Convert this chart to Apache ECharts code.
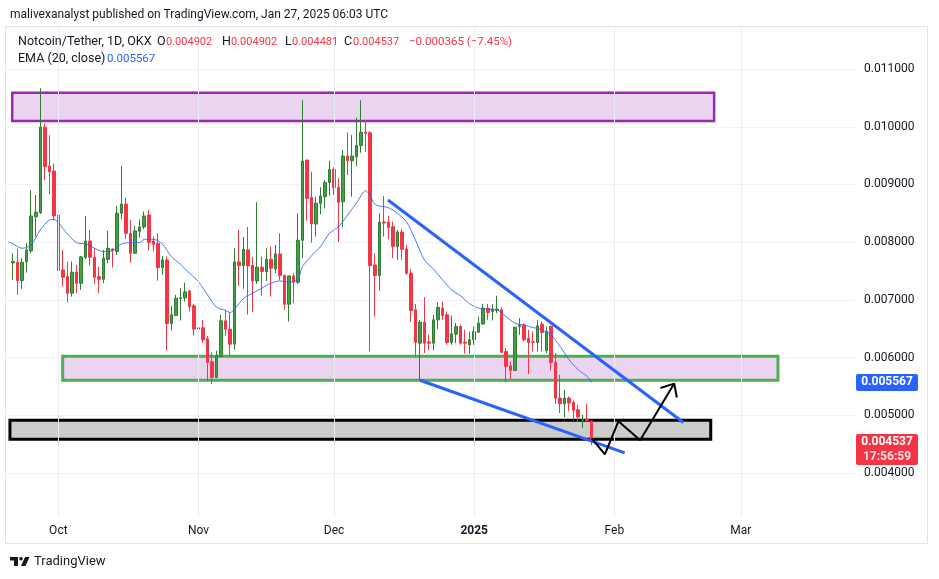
<!DOCTYPE html>
<html>
<head>
<meta charset="utf-8">
<title>Notcoin/Tether 1D</title>
<script src="https://cdn.jsdelivr.net/npm/echarts@6/dist/echarts.min.js"></script>
<style>
  html, body { margin: 0; padding: 0; background: #fff; }
  #chart { width: 939px; height: 579px; }
</style>
</head>
<body>
<div id="chart"></div>
<script>
// daily candles, first one is 2024-09-21, last one 2025-01-27
var firstDay = Date.UTC(2024, 8, 21);
var DAY = 86400000;

var opens = [
  0.007640, 0.007651, 0.007334, 0.007663, 0.007848, 0.008442, 0.008511, 0.009994, 0.009319, 0.009233,
  0.008471, 0.007519, 0.007403, 0.007115, 0.007478, 0.007288, 0.007738, 0.008021, 0.007738, 0.007403,
  0.007357, 0.007703, 0.007882, 0.007836, 0.008500, 0.008661, 0.008154, 0.007807, 0.008188, 0.008263,
  0.008471, 0.008021, 0.007980, 0.007559, 0.007692, 0.006590, 0.006728, 0.007023, 0.007034, 0.007155,
  0.006896, 0.006492, 0.006515, 0.006324, 0.005926, 0.005655, 0.006019, 0.006636, 0.006492, 0.006232,
  0.007657, 0.007594, 0.007865, 0.007600, 0.007328, 0.007565, 0.007490, 0.007703, 0.007536, 0.007796,
  0.007426, 0.006924, 0.007415, 0.007305, 0.008032, 0.009423, 0.008777, 0.008315, 0.008673, 0.008788,
  0.009036, 0.009261, 0.008950, 0.008702, 0.009492, 0.009411, 0.009481, 0.009677, 0.009908, 0.009896,
  0.007605, 0.007421, 0.008350, 0.008350, 0.008269, 0.007923, 0.008177, 0.007882, 0.007461, 0.006826,
  0.006249, 0.006613, 0.006272, 0.006249, 0.006653, 0.006855, 0.006740, 0.006261, 0.006405, 0.006538,
  0.006267, 0.006220, 0.006307, 0.006440, 0.006584, 0.006855, 0.006797, 0.006815, 0.006826, 0.006105,
  0.005857, 0.005776, 0.006532, 0.006567, 0.006336, 0.006272, 0.006261, 0.006578, 0.006117, 0.006538,
  0.005915, 0.005297, 0.005199, 0.005297, 0.005222, 0.005095, 0.004911, 0.004934, 0.004902
];
var closes = [
  0.007663, 0.007334, 0.007651, 0.007865, 0.008454, 0.008517, 0.009994, 0.009308, 0.009221, 0.008454,
  0.007507, 0.007392, 0.007115, 0.007478, 0.007288, 0.007744, 0.008021, 0.007738, 0.007392, 0.007357,
  0.007721, 0.007894, 0.007853, 0.008500, 0.008661, 0.008154, 0.007807, 0.008194, 0.008263, 0.008454,
  0.007992, 0.007963, 0.007559, 0.007692, 0.006590, 0.006740, 0.007028, 0.007034, 0.007138, 0.006884,
  0.006492, 0.006515, 0.006307, 0.005915, 0.005655, 0.006030, 0.006636, 0.006492, 0.006232, 0.007657,
  0.007594, 0.007877, 0.007588, 0.007328, 0.007565, 0.007490, 0.007703, 0.007548, 0.007796, 0.007421,
  0.006924, 0.007415, 0.007305, 0.008032, 0.009406, 0.008759, 0.008315, 0.008673, 0.008800, 0.009036,
  0.009261, 0.008944, 0.008690, 0.009492, 0.009411, 0.009492, 0.009677, 0.009908, 0.009885, 0.007594,
  0.007421, 0.008344, 0.008332, 0.008257, 0.007923, 0.008177, 0.007877, 0.007461, 0.006815, 0.006261,
  0.006613, 0.006249, 0.006249, 0.006653, 0.006867, 0.006728, 0.006261, 0.006411, 0.006538, 0.006249,
  0.006249, 0.006307, 0.006451, 0.006596, 0.006855, 0.006780, 0.006838, 0.006838, 0.006088, 0.005845,
  0.005776, 0.006526, 0.006555, 0.006307, 0.006261, 0.006261, 0.006549, 0.006434, 0.006451, 0.005915,
  0.005297, 0.005199, 0.005297, 0.005211, 0.005084, 0.004968, 0.004934, 0.004902, 0.004537
];
var lows = [
  0.007346, 0.007086, 0.007190, 0.007473, 0.007807, 0.008096, 0.008488, 0.009077, 0.008829, 0.008384,
  0.007161, 0.007230, 0.006959, 0.007057, 0.007115, 0.007173, 0.007709, 0.007594, 0.007276, 0.007115,
  0.007288, 0.007634, 0.007559, 0.007778, 0.008396, 0.008055, 0.007646, 0.007796, 0.008084, 0.008228,
  0.007853, 0.007836, 0.007334, 0.007432, 0.006122, 0.006469, 0.006723, 0.006642, 0.006971, 0.006797,
  0.006382, 0.006336, 0.006249, 0.005586, 0.005540, 0.005655, 0.006019, 0.006376, 0.006019, 0.006134,
  0.007242, 0.007190, 0.006745, 0.006786, 0.007276, 0.007074, 0.007328, 0.007057, 0.007461, 0.007346,
  0.006826, 0.006624, 0.006942, 0.007276, 0.007721, 0.008373, 0.007992, 0.008096, 0.008482, 0.008586,
  0.008806, 0.008817, 0.008003, 0.008252, 0.009163, 0.008788, 0.009319, 0.009550, 0.009567, 0.006105,
  0.006711, 0.007161, 0.008096, 0.008050, 0.007721, 0.007692, 0.007692, 0.007432, 0.006624, 0.006007,
  0.005615, 0.006076, 0.006122, 0.006122, 0.006492, 0.006653, 0.006220, 0.006220, 0.006249, 0.006220,
  0.006065, 0.006065, 0.006220, 0.006422, 0.006567, 0.006653, 0.006642, 0.006769, 0.006076, 0.005568,
  0.005626, 0.005776, 0.006394, 0.006278, 0.005713, 0.006105, 0.006105, 0.006105, 0.006076, 0.005776,
  0.005199, 0.005038, 0.004968, 0.005066, 0.004911, 0.004894, 0.004778, 0.004894, 0.004481
];
var highs = [
  0.007807, 0.007882, 0.007721, 0.007980, 0.008904, 0.008817, 0.010669, 0.010058, 0.009856, 0.009365,
  0.008961, 0.007865, 0.007663, 0.007663, 0.007605, 0.007761, 0.008454, 0.008211, 0.007894, 0.007576,
  0.007865, 0.008194, 0.007894, 0.008627, 0.009319, 0.008771, 0.008384, 0.008286, 0.008396, 0.008529,
  0.008557, 0.008096, 0.008154, 0.007761, 0.007750, 0.006896, 0.007086, 0.007201, 0.007300, 0.007173,
  0.006930, 0.006723, 0.006653, 0.006376, 0.006088, 0.006117, 0.006740, 0.006826, 0.006769, 0.007894,
  0.008211, 0.008090, 0.008263, 0.007744, 0.008696, 0.007744, 0.007894, 0.007923, 0.007952, 0.008154,
  0.007432, 0.007415, 0.007461, 0.008500, 0.010462, 0.009423, 0.009221, 0.008788, 0.008950, 0.009077,
  0.009411, 0.009296, 0.009106, 0.009596, 0.009902, 0.009856, 0.010156, 0.010462, 0.010115, 0.009925,
  0.007807, 0.008500, 0.008800, 0.008454, 0.008355, 0.008211, 0.008228, 0.007952, 0.007536, 0.006930,
  0.006653, 0.007046, 0.006394, 0.006740, 0.006953, 0.006971, 0.006797, 0.006723, 0.006596, 0.006567,
  0.006480, 0.006451, 0.006538, 0.006711, 0.006930, 0.006930, 0.006924, 0.007069, 0.006873, 0.006163,
  0.005932, 0.006526, 0.006682, 0.006596, 0.006480, 0.006451, 0.006653, 0.006624, 0.006538, 0.006555,
  0.006076, 0.005701, 0.005441, 0.005326, 0.005257, 0.005182, 0.005009, 0.005199, 0.004902
];

// EMA(20, close): day offset from firstDay, value
var emaDay = [-1, 0, 2, 4, 6, 8, 9, 10, 12, 14, 16, 18, 20, 22, 24, 26, 28, 29, 31, 33, 35, 37, 39, 41,
  43, 45, 47, 48, 49, 51, 53, 55, 57, 59, 61, 63, 64, 66, 68, 70, 72, 74, 76, 78, 79, 80, 81, 83, 85,
  87, 89, 91, 93, 95, 97, 99, 101, 103, 105, 107, 109, 111, 113, 115, 117, 119, 121, 123, 125, 127, 128];
var emaValue = [0.008000, 0.007969, 0.007894, 0.007952, 0.008211, 0.008384, 0.008396, 0.008338, 0.008142,
  0.007992, 0.007969, 0.007894, 0.007836, 0.007853, 0.007969, 0.007992, 0.007992, 0.008050, 0.008050,
  0.007969, 0.007750, 0.007617, 0.007461, 0.007317, 0.007086, 0.006873, 0.006815, 0.006780, 0.006838,
  0.007028, 0.007115, 0.007201, 0.007288, 0.007328, 0.007305, 0.007357, 0.007577, 0.007761, 0.007923,
  0.008154, 0.008269, 0.008471, 0.008684, 0.008892, 0.008800, 0.008661, 0.008627, 0.008598, 0.008500,
  0.008355, 0.008038, 0.007692, 0.007530, 0.007346, 0.007173, 0.007069, 0.006930, 0.006855, 0.006838,
  0.006826, 0.006711, 0.006596, 0.006561, 0.006521, 0.006480, 0.006394, 0.006192, 0.005961, 0.005788,
  0.005673, 0.005567];

var monthTicks = ['2024-10-01', '2024-11-01', '2024-12-01', '2025-01-01', '2025-02-01', '2025-03-01'];
var monthLabels = ['Oct', 'Nov', 'Dec', '2025', 'Feb', 'Mar'];

// drawn zones: [left date, right date, top price, bottom price]
var purpleZone = ['2024-09-20T19:00Z', '2025-02-23T02:00Z', 0.010590, 0.010100];
var greenZone = ['2024-10-01T23:00Z', '2025-03-09T05:00Z', 0.006021, 0.005606];
var greyZone = ['2024-09-20T07:00Z', '2025-02-22T08:00Z', 0.004913, 0.004585];

// drawn trend lines and projected path
var upperLine = [['2024-12-12T22:00Z', 0.008732], ['2025-02-16T07:00Z', 0.004874]];
var lowerLine = [['2024-12-20T00:00Z', 0.005606], ['2025-02-03T07:00Z', 0.004348]];
var zigzag = [['2025-01-27T00:00Z', 0.004597], ['2025-01-29T22:00Z', 0.004320], ['2025-02-01T22:00Z', 0.004896],
  ['2025-02-06T17:00Z', 0.004567], ['2025-02-14T06:00Z', 0.005548]];
var arrowHead = [['2025-02-11T05:00Z', 0.005472], ['2025-02-14T06:00Z', 0.005548], ['2025-02-14T20:00Z', 0.005306]];

var lastPrice = 0.004537;
var emaLast = 0.005567;

function t(s) { return Date.parse(s.length == 10 ? s + 'T00:00:00Z' : s); }
function pts(arr) { return arr.map(function (p) { return [t(p[0]), p[1]]; }); }
function zone(z, style) {
  return [{ xAxis: t(z[0]), yAxis: z[2], itemStyle: style }, { xAxis: t(z[1]), yAxis: z[3] }];
}

var candleData = [];
for (var i = 0; i < opens.length; i++) {
  candleData.push([firstDay + i * DAY, opens[i], closes[i], lows[i], highs[i]]);
}
var emaData = emaDay.map(function (d, k) { return [firstDay + d * DAY, emaValue[k]]; });
var tickTimes = monthTicks.map(t);

var FONT = 'Roboto, "Liberation Sans", sans-serif';
var chart = echarts.init(document.getElementById('chart'));

chart.setOption({
  animation: false,
  backgroundColor: '#ffffff',
  textStyle: { fontFamily: FONT },
  grid: { left: 6, right: 84, top: 27, bottom: 62 },
  xAxis: {
    type: 'value',
    min: Date.UTC(2024, 8, 19, 10),
    max: Date.UTC(2025, 2, 26, 6),
    axisLine: { show: false },
    axisTick: { show: false },
    splitLine: { show: false },
    axisLabel: {
      customValues: tickTimes,
      margin: 8,
      color: '#131722',
      fontSize: 12,
      formatter: function (v) {
        var k = tickTimes.indexOf(v);
        var s = k >= 0 ? monthLabels[k] : '';
        return s === '2025' ? '{b|' + s + '}' : s;
      },
      rich: { b: { fontWeight: 'bold', fontSize: 12, color: '#131722' } }
    }
  },
  yAxis: {
    type: 'value',
    position: 'right',
    min: 0.003235,
    max: 0.011730,
    splitNumber: 8,
    axisLine: { show: false },
    axisTick: { show: false },
    splitLine: { showMinLine: false, showMaxLine: false, lineStyle: { color: '#f0f3fa', width: 1 } },
    axisLabel: {
      color: '#131722',
      fontSize: 12,
      margin: 9,
      showMinLabel: false,
      showMaxLabel: false,
      formatter: function (v) { return v.toFixed(6); }
    }
  },
  series: [
    {
      // zones and month grid lines
      type: 'line',
      data: [],
      z: 1,
      silent: true,
      markLine: {
        symbol: 'none',
        silent: true,
        label: { show: false },
        lineStyle: { color: '#eaedf3', width: 1, type: 'solid' },
        data: tickTimes.map(function (v) { return { xAxis: v }; })
      },
      markArea: {
        silent: true,
        data: [
          zone(purpleZone, { color: 'rgba(156,39,176,0.2)', borderColor: '#9c27b0', borderWidth: 2.5 }),
          zone(greenZone, { color: 'rgba(156,39,176,0.2)', borderColor: '#4caf50', borderWidth: 3 }),
          zone(greyZone, { color: 'rgba(0,0,0,0.2)', borderColor: '#000000', borderWidth: 3 })
        ]
      }
    },
    {
      name: 'Notcoin/Tether',
      type: 'candlestick',
      z: 3,
      barWidth: 3,
      encode: { x: 0, y: [1, 2, 3, 4] },
      data: candleData,
      itemStyle: {
        color: '#43a047',
        color0: '#f23645',
        borderColor: '#2e7d32',
        borderColor0: '#f23645',
        borderWidth: 1
      },
      markLine: {
        symbol: 'none',
        silent: true,
        label: { show: false },
        lineStyle: { color: '#f23645', width: 1, type: 'dotted' },
        data: [{ yAxis: lastPrice }]
      }
    },
    {
      name: 'EMA (20, close)',
      type: 'line',
      z: 4,
      data: emaData,
      smooth: 0.3,
      symbol: 'none',
      lineStyle: { color: '#2962ff', width: 1, opacity: 0.85 }
    },
    {
      type: 'line', z: 5, data: pts(upperLine), symbol: 'none',
      lineStyle: { color: '#2962ff', width: 3 }
    },
    {
      type: 'line', z: 5, data: pts(lowerLine), symbol: 'none',
      lineStyle: { color: '#2962ff', width: 3 }
    },
    {
      type: 'line', z: 6, data: pts(zigzag), symbol: 'none',
      lineStyle: { color: '#000000', width: 2 }
    },
    {
      type: 'line', z: 6, data: pts(arrowHead), symbol: 'none',
      lineStyle: { color: '#000000', width: 2 }
    }
  ]
});

// text overlays, placed after the axes exist
var yEma = chart.convertToPixel({ yAxisIndex: 0 }, emaLast);
var yLast = chart.convertToPixel({ yAxisIndex: 0 }, lastPrice);
var red = '#f23645';
var ink = '#131722';

function txt(x, y, s, color, size, weight, align) {
  return {
    type: 'text', x: x, y: y, z: 100,
    style: { text: s, fill: color, fontSize: size || 13, fontFamily: FONT, fontWeight: weight || 'normal',
      verticalAlign: 'middle', align: align || 'left' }
  };
}

chart.setOption({
  graphic: [
    { type: 'rect', z: -1, shape: { x: 5.5, y: 26.5, width: 922, height: 517 }, style: { fill: 'none', stroke: '#e0e3eb', lineWidth: 1 } },
    txt(10, 15, 'malivexanalyst published on TradingView.com, Jan 27, 2025 06:03 UTC', ink, 12),
    txt(18, 42, 'Notcoin/Tether, 1D, OKX', ink, 12.5),
    txt(157, 42, 'O', ink, 12.5), txt(166, 42, '0.004902', red, 11),
    txt(222, 42, 'H', ink, 12.5), txt(231, 42, '0.004902', red, 11),
    txt(285, 42, 'L', ink, 12.5), txt(292, 42, '0.004481', red, 11),
    txt(344, 42, 'C', ink, 12.5), txt(353, 42, '0.004537', red, 11),
    txt(409, 42, '\u22120.000365 (\u22127.45%)', red, 11.5),
    txt(18, 59, 'EMA (20, close)', ink, 12.5),
    txt(107, 59, '0.005567', '#2962ff', 11.5),
    // price tags on the axis
    { type: 'rect', z: 100, shape: { x: 856, y: yEma - 8.5, width: 62, height: 17, r: 2 }, style: { fill: '#2962ff' } },
    txt(887, yEma, '0.005567', '#ffffff', 12, 'bold', 'center'),
    { type: 'rect', z: 100, shape: { x: 856, y: yLast - 8, width: 62, height: 31, r: 2 }, style: { fill: red } },
    txt(887, yLast + 0.5, '0.004537', '#ffffff', 12, 'bold', 'center'),
    txt(887, yLast + 15, '17:56:59', 'rgba(255,255,255,0.85)', 12, 'bold', 'center'),
    // TradingView mark
    { type: 'rect', z: 100, shape: { x: 10, y: 557, width: 8, height: 3.5 }, style: { fill: ink } },
    { type: 'rect', z: 100, shape: { x: 14, y: 557, width: 4, height: 9 }, style: { fill: ink } },
    { type: 'circle', z: 100, shape: { cx: 21, cy: 558.8, r: 1.8 }, style: { fill: ink } },
    { type: 'polygon', z: 100, shape: { points: [[25, 557], [29.5, 557], [25.5, 566], [21, 566]] }, style: { fill: ink } },
    txt(34, 562, 'TradingView', ink, 13)
  ]
});
</script>
</body>
</html>
